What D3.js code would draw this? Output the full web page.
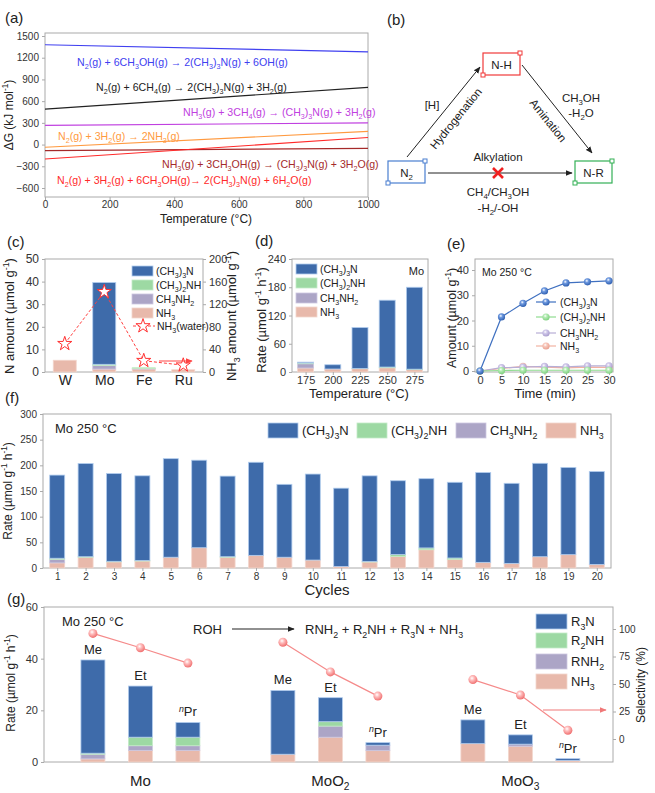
<!DOCTYPE html>
<html>
<head>
<meta charset="utf-8">
<script src="https://cdn.jsdelivr.net/npm/d3@7"></script>
<style>
  body { margin: 0; background: #fff; }
  svg { display: block; }
</style>
</head>
<body>
<script>
// ---- data ----
// (a) Gibbs energy vs temperature
var dGTemps = [0, 1000];
var dGLabels = [
  "N_2(g) + 6CH_3OH(g) → 2(CH_3)_3N(g) + 6OH(g)",
  "N_2(g) + 6CH_4(g) → 2(CH_3)_3N(g) + 3H_2(g)",
  "NH_3(g) + 3CH_4(g) → (CH_3)_3N(g) + 3H_2(g)",
  "N_2(g) + 3H_2(g) → 2NH_3(g)",
  "NH_3(g) + 3CH_3OH(g) → (CH_3)_3N(g) + 3H_2O(g)",
  "N_2(g) + 3H_2(g) + 6CH_3OH(g)→ 2(CH_3)_3N(g) + 6H_2O(g)"
];
var dGAt0 = [1380, 490, 265, -38, -83, -200];
var dGAt1000 = [1280, 790, 300, 182, -52, 98];

// (c) metals
var cMetals = ["W", "Mo", "Fe", "Ru"];
var cNH3 = [5.2, 1.3, 1.3, 1.0];
var cMA = [0, 1.6, 0.2, 0];
var cDMA = [0, 0.5, 0.4, 0];
var cTMA = [0, 36.2, 0, 0];
var cNH3water = [50, 142, 20, 12];

// (d) temperature
var dTemps = ["175", "200", "225", "250", "275"];
var dNH3 = [8.5, 6.4, 7, 9, 5];
var dMA = [9, 0, 0, 0, 0];
var dDMA = [1.5, 0, 0.5, 1.5, 1];
var dTMA = [2, 9, 87, 142, 174];

// (e) time course
var eTime = [0, 5, 10, 15, 20, 25, 30];
var eTMA = [0, 21.4, 26.8, 31.7, 34.9, 35.3, 35.7];
var eDMA = [0, 0.2, 0.3, 0.3, 0.3, 0.3, 0.3];
var eMA = [0, 1.3, 1.5, 1.8, 1.6, 2.0, 2.0];
var eNH3 = [0, 1.0, 1.8, 1.5, 1.2, 1.5, 1.4];

// (f) cycles
var fCycles = d3.range(1, 21).map(String);
var fNH3 = [10, 21, 12, 13.6, 21, 39.5, 21, 24.6, 21, 15.5, 3, 11.7, 22.7, 35.6, 17, 11, 9, 22, 26, 7];
var fMA = [7, 0, 0, 0, 0, 0, 0, 0, 0, 0, 0, 0, 0, 0, 0, 0, 0, 0, 0, 0];
var fDMA = [2, 1, 1, 1, 0, 0, 1, 0, 0, 0, 0, 1, 3.5, 3.5, 2.5, 0, 0, 0, 0, 0];
var fTMA = [162, 181.5, 171, 165, 192, 170.5, 157, 181.4, 142, 167.5, 152.5, 166.8, 143.8, 134.9, 147.5, 175, 156, 182, 170, 181];

// (g) alcohols on catalysts
var gCatalysts = ["Mo", "MoO_2", "MoO_3"];
var gAlcohols = ["Me", "Et", "^nPr"];
var gNH3 = [1.2, 4.5, 4.5, 3.0, 9.6, 4.4, 7.1, 6.1, 0.6];
var gRNH2 = [1.8, 1.8, 1.8, 0, 4.3, 2.1, 0, 0.8, 0];
var gR2NH = [0.4, 3.3, 3.3, 0, 1.7, 0, 0, 0, 0];
var gR3N = [36.1, 19.8, 5.7, 24.7, 9.3, 1.0, 9.2, 3.6, 0.7];
var gSelectivity = [96, 83, 69, 88, 61, 39, 54, 40, 8];

// ---- style ----
var FONT = "Liberation Sans, Arial, sans-serif";
var dGColors = ["#4040f0", "#222222", "#c040e0", "#ff9a40", "#a52a2a", "#ff2a2a"];
var cBlue = "#3e6baa", cGreen = "#9dd9a3", cPurple = "#aca5c6", cPink = "#e8b9ab";
var stackColors = [cPink, cPurple, cGreen, cBlue];
var stackStrokes = ["#f3d6cd", "#cdc7e0", "#c4ecc7", "#b2cdee"];
var frameColor = "#aaaaaa";

var svg = d3.select("body").append("svg").attr("width", 655).attr("height", 793)
  .attr("font-family", FONT);
var defs = svg.append("defs");

function arrowMarker(id, color, size) {
  defs.append("marker").attr("id", id)
    .attr("viewBox", "0 0 10 10").attr("refX", 9).attr("refY", 5)
    .attr("markerWidth", size).attr("markerHeight", size)
    .attr("markerUnits", "userSpaceOnUse")
    .attr("orient", "auto")
    .append("path").attr("d", "M0,1 L10,5 L0,9 z").attr("fill", color);
}
arrowMarker("arrBlack", "#222", 7);
arrowMarker("arrRed", "#ff4444", 7);
arrowMarker("arrPink", "#f07878", 7);

function ballGradient(id, light, dark) {
  var gr = defs.append("radialGradient").attr("id", id)
    .attr("cx", "40%").attr("cy", "35%").attr("r", "65%");
  gr.append("stop").attr("offset", "0%").attr("stop-color", "#ffffff");
  gr.append("stop").attr("offset", "35%").attr("stop-color", light);
  gr.append("stop").attr("offset", "100%").attr("stop-color", dark);
}
ballGradient("ballBlue", "#6f9ae0", "#2f5fb0");
ballGradient("ballGreen", "#b5ecb5", "#7fd07f");
ballGradient("ballPurple", "#d0c8ea", "#a89ccc");
ballGradient("ballPink", "#f8c8bc", "#e8a090");
ballGradient("ballSel", "#ffc0c0", "#f07070");

// text with _x / _{..} subscripts and ^x / ^{..} superscripts
function rich(sel, str, fs) {
  var segs = [], cur = "", i = 0;
  while (i < str.length) {
    var c = str[i];
    if (c === "_" || c === "^") {
      if (cur) segs.push({t: cur, k: 0});
      cur = "";
      var s;
      if (str[i + 1] === "{") { var j = str.indexOf("}", i); s = str.slice(i + 2, j); i = j + 1; }
      else { s = str[i + 1]; i += 2; }
      segs.push({t: s, k: c === "_" ? 1 : -1});
    } else { cur += c; i++; }
  }
  if (cur) segs.push({t: cur, k: 0});
  var shift = 0;
  segs.forEach(function(s) {
    var target = s.k === 1 ? fs * 0.28 : (s.k === -1 ? -fs * 0.38 : 0);
    var ts = sel.append("tspan").attr("dy", target - shift)
      .attr("font-size", s.k ? fs * 0.68 : fs).text(s.t);
    if (s.k === -1 && s.t === "n") ts.attr("font-style", "italic");
    shift = target;
  });
  return sel;
}

function label(x, y, str, fs, opts) {
  opts = opts || {};
  var t = svg.append("text").attr("x", x).attr("y", y)
    .attr("font-size", fs).attr("fill", opts.fill || "#222")
    .attr("text-anchor", opts.anchor || "start");
  if (opts.rotate) t.attr("transform", "rotate(" + opts.rotate + "," + x + "," + y + ")");
  rich(t, str, fs);
  return t;
}

function frame(x0, y0, x1, y1) {
  svg.append("rect").attr("x", x0).attr("y", y0).attr("width", x1 - x0).attr("height", y1 - y0)
    .attr("fill", "none").attr("stroke", frameColor).attr("stroke-width", 1);
}

function styleAxis(g, fs) {
  g.select(".domain").remove();
  g.selectAll(".tick line").attr("stroke", frameColor);
  g.selectAll(".tick text").attr("fill", "#333").attr("font-size", fs).attr("font-family", FONT);
}

function stacked(g, cats, series, xf, y, bw) {
  var keys = ["NH3", "MA", "DMA", "TMA"];
  var rows = cats.map(function(c, i) {
    var o = {cat: c};
    keys.forEach(function(k, j) { o[k] = series[j][i]; });
    return o;
  });
  var st = d3.stack().keys(keys)(rows);
  st.forEach(function(layer, li) {
    g.selectAll(null).data(layer.filter(function(d) { return d[1] - d[0] > 0; }))
      .enter().append("rect")
      .attr("x", function(d) { return xf(d.data.cat) - bw / 2; })
      .attr("y", function(d) { return y(d[1]); })
      .attr("width", bw)
      .attr("height", function(d) { return y(d[0]) - y(d[1]); })
      .attr("fill", stackColors[li])
      .attr("stroke", stackStrokes[li]).attr("stroke-width", 0.8);
  });
  return st;
}

function boxLegend(x, ys, w, h, names, colors, fs, gap) {
  names.forEach(function(n, i) {
    svg.append("rect").attr("x", x).attr("y", ys[i] - h / 2).attr("width", w).attr("height", h)
      .attr("fill", colors[i]).attr("stroke", stackStrokes[stackColors.indexOf(colors[i])]).attr("stroke-width", 0.8);
    label(x + w + gap, ys[i] + fs * 0.35, n, fs);
  });
}

// ================= (a) =================
(function() {
  var x = d3.scaleLinear().domain([0, 1000]).range([45, 368]);
  var y = d3.scaleLinear().domain([-600, 1500]).range([188, 36]);
  frame(45, 33, 368, 197);
  var ga = svg.append("g").attr("transform", "translate(45,0)")
    .call(d3.axisLeft(y).tickValues(d3.range(-600, 1501, 300)).tickFormat(d3.format("d")).tickSize(3));
  styleAxis(ga, 10);
  var gb = svg.append("g").attr("transform", "translate(0,197)")
    .call(d3.axisBottom(x).tickValues(d3.range(0, 1001, 200)).tickFormat(d3.format("d")).tickSize(3).tickPadding(1));
  styleAxis(gb, 10);
  var line = d3.line().x(function(d) { return x(d[0]); }).y(function(d) { return y(d[1]); });
  dGLabels.forEach(function(l, i) {
    svg.append("path").datum([[dGTemps[0], dGAt0[i]], [dGTemps[1], dGAt1000[i]]])
      .attr("d", line).attr("fill", "none").attr("stroke", dGColors[i]).attr("stroke-width", 1.1);
  });
  var lx = [77, 96, 183, 58, 162, 57];
  var ly = [66, 91, 116, 140, 168, 184];
  dGLabels.forEach(function(l, i) { label(lx[i], ly[i], l, 10.6, {fill: dGColors[i]}); });
  label(13, 115, "ΔG (kJ mol^{-1})", 12, {anchor: "middle", rotate: -90});
  label(206, 223, "Temperature (°C)", 12, {anchor: "middle"});
  label(5, 23, "(a)", 15);
})();

// ================= (b) =================
(function() {
  label(387, 25, "(b)", 15);
  function box(x0, y0, color, txt) {
    svg.append("rect").attr("x", x0).attr("y", y0).attr("width", 37).attr("height", 22)
      .attr("fill", "none").attr("stroke", color).attr("stroke-width", 1.2);
    [[x0 + 37, y0], [x0, y0 + 22]].forEach(function(p) {
      svg.append("rect").attr("x", p[0] - 2).attr("y", p[1] - 2).attr("width", 4).attr("height", 4)
        .attr("fill", "#fff").attr("stroke", color).attr("stroke-width", 1);
    });
    label(x0 + 18.5, y0 + 15.5, txt, 11.5, {anchor: "middle"});
  }
  box(483, 53, "#f03a3a", "N-H");
  box(388, 161, "#4a7fd0", "N_2");
  box(575, 161, "#33b055", "N-R");
  function arrow(x1, y1, x2, y2) {
    svg.append("line").attr("x1", x1).attr("y1", y1).attr("x2", x2).attr("y2", y2)
      .attr("stroke", "#222").attr("stroke-width", 1).attr("marker-end", "url(#arrBlack)");
  }
  arrow(407, 157, 480, 67);
  arrow(522, 65, 592, 153);
  arrow(428, 173, 572, 173);
  label(432, 109, "[H]", 11.5, {anchor: "middle"});
  label(459, 121, "Hydrogenation", 11.5, {anchor: "middle", rotate: -51});
  label(545, 123, "Amination", 11.5, {anchor: "middle", rotate: 51});
  label(581, 102, "CH_3OH", 11.5, {anchor: "middle"});
  label(581, 117, "-H_2O", 11.5, {anchor: "middle"});
  label(498, 161, "Alkylation", 11.5, {anchor: "middle"});
  label(498, 196, "CH_4/CH_3OH", 11.5, {anchor: "middle"});
  label(498, 212, "-H_2/-OH", 11.5, {anchor: "middle"});
  svg.append("path").attr("d", "M493,168 L503,178 M503,168 L493,178")
    .attr("stroke", "#f02020").attr("stroke-width", 2.6).attr("fill", "none");
})();

// ================= (c) =================
(function() {
  var x = d3.scalePoint().domain(cMetals).range([45, 203]).padding(0.5);
  var y = d3.scaleLinear().domain([0, 50]).range([372, 259]);
  var y2 = d3.scaleLinear().domain([0, 200]).range([372, 259]);
  frame(45, 259, 203, 372);
  var g = svg.append("g");
  stacked(g, cMetals, [cNH3, cMA, cDMA, cTMA], x, y, 23);
  var ga = svg.append("g").attr("transform", "translate(45,0)")
    .call(d3.axisLeft(y).tickValues([0, 10, 20, 30, 40, 50]).tickSize(3));
  styleAxis(ga, 12);
  var gr = svg.append("g").attr("transform", "translate(203,0)")
    .call(d3.axisRight(y2).tickValues([0, 40, 80, 120, 160, 200]).tickSize(3));
  styleAxis(gr, 11);
  var gb = svg.append("g").attr("transform", "translate(0,372)")
    .call(d3.axisBottom(x).tickSize(0).tickPadding(3));
  styleAxis(gb, 14);
  gb.selectAll(".tick text").attr("fill", "#222");
  var pts = cMetals.map(function(m, i) { return [x(m), y2(cNH3water[i])]; });
  svg.append("path").attr("d", d3.line()(pts)).attr("fill", "none")
    .attr("stroke", "#ff4040").attr("stroke-width", 1).attr("stroke-dasharray", "3,2");
  var star = d3.symbol().type(d3.symbolStar).size(62);
  svg.selectAll(null).data(pts).enter().append("path")
    .attr("d", star).attr("transform", function(d) { return "translate(" + d[0] + "," + d[1] + ")"; })
    .attr("fill", "#fff").attr("stroke", "#ff3030").attr("stroke-width", 1);
  svg.append("line").attr("x1", 159).attr("y1", 361).attr("x2", 192).attr("y2", 361)
    .attr("stroke", "#ff4444").attr("stroke-width", 1.2).attr("marker-end", "url(#arrRed)");
  boxLegend(132, [271, 285, 299, 313], 21, 10,
    ["(CH_3)_3N", "(CH_3)_2NH", "CH_3NH_2", "NH_3"], [cBlue, cGreen, cPurple, cPink], 10.5, 3);
  svg.append("line").attr("x1", 133).attr("y1", 326).attr("x2", 155).attr("y2", 326)
    .attr("stroke", "#ff4040").attr("stroke-dasharray", "3,2");
  svg.append("path").attr("d", star).attr("transform", "translate(143,326)")
    .attr("fill", "#fff").attr("stroke", "#ff3030");
  label(157, 330, "NH_3(water)", 10.5);
  label(14, 316, "N  amount (µmol g^{-1})", 13, {anchor: "middle", rotate: -90});
  label(236, 316, "NH_3 amount (µmol g^{-1})", 13, {anchor: "middle", rotate: -90});
  label(7, 247, "(c)", 15);
})();

// ================= (d) =================
(function() {
  var x = d3.scalePoint().domain(dTemps).range([292, 428]).padding(0.5);
  var y = d3.scaleLinear().domain([0, 240]).range([372, 259]);
  frame(292, 259, 428, 372);
  stacked(svg.append("g"), dTemps, [dNH3, dMA, dDMA, dTMA], x, y, 16);
  var ga = svg.append("g").attr("transform", "translate(292,0)")
    .call(d3.axisLeft(y).tickValues([0, 60, 120, 180, 240]).tickSize(3));
  styleAxis(ga, 11);
  var gb = svg.append("g").attr("transform", "translate(0,372)")
    .call(d3.axisBottom(x).tickSize(3).tickPadding(1.5));
  styleAxis(gb, 11);
  boxLegend(296, [269, 283, 298, 312], 21, 10,
    ["(CH_3)_3N", "(CH_3)_2NH", "CH_3NH_2", "NH_3"], [cBlue, cGreen, cPurple, cPink], 10.5, 3);
  label(424, 275, "Mo", 11, {anchor: "end"});
  label(266, 320, "Rate (µmol g^{-1} h^{-1})", 13, {anchor: "middle", rotate: -90});
  label(359, 398, "Temperature (°C)", 13, {anchor: "middle"});
  label(255, 246, "(d)", 15);
})();

// ================= (e) =================
(function() {
  var x = d3.scaleLinear().domain([0, 30]).range([480, 609]);
  var y = d3.scaleLinear().domain([0, 40]).range([371, 270]);
  frame(475, 259, 613, 372);
  var ga = svg.append("g").attr("transform", "translate(475,0)")
    .call(d3.axisLeft(y).tickValues([0, 10, 20, 30, 40]).tickSize(3));
  styleAxis(ga, 11);
  var gb = svg.append("g").attr("transform", "translate(0,372)")
    .call(d3.axisBottom(x).tickValues(eTime).tickSize(3).tickPadding(1.5));
  styleAxis(gb, 11);
  var series = [eNH3, eMA, eDMA, eTMA];
  var lineCols = ["#f2b2a2", "#b7aed6", "#8fdc8f", "#3f70c0"];
  var balls = ["ballPink", "ballPurple", "ballGreen", "ballBlue"];
  var line = d3.line().x(function(d, i) { return x(eTime[i]); }).y(function(d) { return y(d); });
  series.forEach(function(s, k) {
    svg.append("path").datum(s).attr("d", line).attr("fill", "none")
      .attr("stroke", lineCols[k]).attr("stroke-width", 1.2);
    svg.selectAll(null).data(s).enter().append("circle")
      .attr("cx", function(d, i) { return x(eTime[i]); }).attr("cy", function(d) { return y(d); })
      .attr("r", 3.6).attr("fill", "url(#" + balls[k] + ")");
  });
  var names = ["(CH_3)_3N", "(CH_3)_2NH", "CH_3NH_2", "NH_3"];
  var ly = [302, 317, 333, 346];
  [3, 2, 1, 0].forEach(function(k, i) {
    svg.append("line").attr("x1", 536).attr("x2", 556).attr("y1", ly[i]).attr("y2", ly[i])
      .attr("stroke", lineCols[k]).attr("stroke-width", 1.2);
    svg.append("circle").attr("cx", 546).attr("cy", ly[i]).attr("r", 3.6).attr("fill", "url(#" + balls[k] + ")");
    label(560, ly[i] + 3.6, names[i], 10.5);
  });
  label(482, 276, "Mo  250 °C", 10.5);
  label(456, 318, "Amount (µmol g^{-1})", 12.5, {anchor: "middle", rotate: -90});
  label(545, 398, "Time (min)", 13, {anchor: "middle"});
  label(447, 249, "(e)", 15);
})();

// ================= (f) =================
(function() {
  var x = d3.scalePoint().domain(fCycles).range([43, 611]).padding(0.5);
  var y = d3.scaleLinear().domain([0, 300]).range([568, 414]);
  frame(43, 414, 611, 568);
  stacked(svg.append("g"), fCycles, [fNH3, fMA, fDMA, fTMA], x, y, 15);
  var ga = svg.append("g").attr("transform", "translate(43,0)")
    .call(d3.axisLeft(y).tickValues([0, 50, 100, 150, 200, 250, 300]).tickSize(3));
  styleAxis(ga, 10);
  var gb = svg.append("g").attr("transform", "translate(0,568)")
    .call(d3.axisBottom(x).tickSize(3).tickPadding(2));
  styleAxis(gb, 10);
  var names = ["(CH_3)_3N", "(CH_3)_2NH", "CH_3NH_2", "NH_3"];
  var cols = [cBlue, cGreen, cPurple, cPink];
  var bx = [268, 357, 456, 546];
  names.forEach(function(n, i) {
    svg.append("rect").attr("x", bx[i]).attr("y", 423).attr("width", 30).attr("height", 15)
      .attr("fill", cols[i]).attr("stroke", stackStrokes[stackColors.indexOf(cols[i])]).attr("stroke-width", 0.8);
    label(bx[i] + 34, 435, n, 13);
  });
  label(55, 433, "Mo 250 °C", 13);
  label(12, 491, "Rate (µmol g^{-1} h^{-1})", 12, {anchor: "middle", rotate: -90});
  label(327, 595, "Cycles", 15, {anchor: "middle"});
  label(5, 403, "(f)", 15);
})();

// ================= (g) =================
(function() {
  var cats = [];
  gCatalysts.forEach(function(c, gi) { gAlcohols.forEach(function(a, ai) { cats.push(gi * 4 + ai); }); });
  var x = d3.scaleLinear().domain([-1.03, 10.95]).range([44, 613]);
  var y = d3.scaleLinear().domain([0, 60]).range([762, 607]);
  var y2 = d3.scaleLinear().domain([0, 100]).range([739, 629]);
  frame(44, 607, 613, 762);
  var st = stacked(svg.append("g"), cats, [gNH3, gRNH2, gR2NH, gR3N], x, y, 24);
  var ga = svg.append("g").attr("transform", "translate(44,0)")
    .call(d3.axisLeft(y).tickValues([0, 20, 40, 60]).tickSize(3));
  styleAxis(ga, 11);
  var gr = svg.append("g").attr("transform", "translate(613,0)")
    .call(d3.axisRight(y2).tickValues([0, 25, 50, 75, 100]).tickSize(3));
  styleAxis(gr, 10);
  // bar labels
  var top = st[st.length - 1];
  cats.forEach(function(p, i) {
    label(x(p), y(top[i][1]) - 6, gAlcohols[i % 3], 13, {anchor: "middle"});
  });
  // group labels
  gCatalysts.forEach(function(c, gi) {
    label(x(gi * 4 + 1), 786, c, 15, {anchor: "middle"});
  });
  // selectivity
  gCatalysts.forEach(function(c, gi) {
    var pts = [0, 1, 2].map(function(ai) { return [x(gi * 4 + ai), y2(gSelectivity[gi * 3 + ai])]; });
    svg.append("path").attr("d", d3.line()(pts)).attr("fill", "none")
      .attr("stroke", "#f58a8a").attr("stroke-width", 1.2);
    svg.selectAll(null).data(pts).enter().append("circle")
      .attr("cx", function(d) { return d[0]; }).attr("cy", function(d) { return d[1]; })
      .attr("r", 4.5).attr("fill", "url(#ballSel)");
  });
  svg.append("line").attr("x1", 543).attr("y1", 710).attr("x2", 606).attr("y2", 710)
    .attr("stroke", "#f07878").attr("stroke-width", 1.2).attr("marker-end", "url(#arrPink)");
  boxLegend(536, [621.5, 640.5, 661.5, 681.5], 31, 15,
    ["R_3N", "R_2NH", "RNH_2", "NH_3"], [cBlue, cGreen, cPurple, cPink], 13, 4);
  label(62, 626, "Mo 250 °C", 13);
  label(193, 634, "ROH", 13);
  svg.append("line").attr("x1", 232).attr("y1", 629).attr("x2", 294).attr("y2", 629)
    .attr("stroke", "#222").attr("stroke-width", 1.2).attr("marker-end", "url(#arrBlack)");
  label(305, 634, "RNH_2 + R_2NH + R_3N + NH_3", 13);
  label(15, 683, "Rate (µmol g^{-1} h^{-1})", 12, {anchor: "middle", rotate: -90});
  label(645, 685, "Selectivity (%)", 12, {anchor: "middle", rotate: -90});
  label(7, 604, "(g)", 15);
})();
</script>
</body>
</html>
